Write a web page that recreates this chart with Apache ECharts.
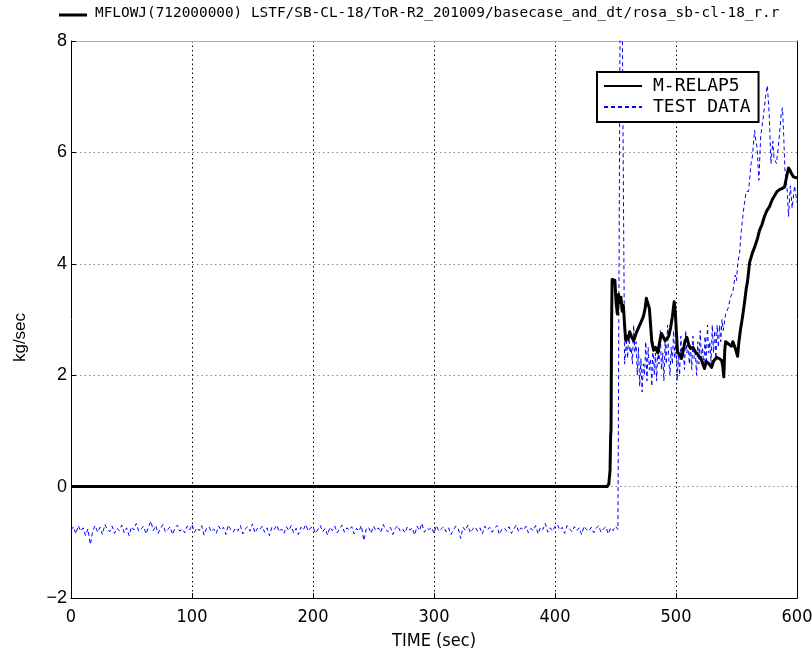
<!DOCTYPE html>
<html>
<head>
<meta charset="utf-8">
<script src="https://cdn.jsdelivr.net/npm/echarts@6/dist/echarts.min.js"></script>
<style>
html,body{margin:0;padding:0;background:#fff;overflow:hidden;}
#chart{width:812px;height:652px;}
</style>
</head>
<body>
<div id="chart"></div>
<script>
// ---- Data ----
var titleText = 'MFLOWJ(712000000) LSTF/SB-CL-18/ToR-R2_201009/basecase_and_dt/rosa_sb-cl-18_r.r';
var seriesNames = ['M-RELAP5', 'TEST DATA'];
var xTicks = [0, 100, 200, 300, 400, 500, 600];
var yTicks = [-2, 0, 2, 4, 6, 8];

// M-RELAP5 (sec, kg/sec)
var relapTime = [0, 443, 444.5, 445.5, 446, 446.3, 446.8, 447.2, 448.5, 449.5, 450.5, 451.5, 452.5, 453.5, 454.5, 455.5, 456.5, 457.5, 458.5, 459.5, 460.5, 461.7, 463, 465, 467, 469, 471, 473, 474.5, 475.5, 476.5, 478, 479, 480, 481.5, 483, 485, 486.5, 488, 489.5, 491, 492.5, 494, 495.5, 497, 498.5, 499.5, 500.5, 501.3, 503, 504.6, 506, 507.5, 509, 510.5, 512, 514, 516, 518, 519.5, 521, 522.5, 523.6, 525, 526, 527.5, 529.4, 531, 533.6, 535.5, 537.7, 538.7, 539.5, 540.3, 541, 542.6, 544, 545.9, 547, 548.4, 549.5, 550.9, 552, 553.3, 555, 556.6, 558, 559.1, 560.8, 563.2, 565, 567.4, 569, 571, 573.1, 575, 577.3, 579.5, 581.4, 583.5, 585.5, 587.5, 589.7, 591.3, 593, 594.2, 595.4, 597.1, 600];
var relapVals = [0, 0, 0.05, 0.3, 0.94, 1.0, 3.0, 3.72, 3.75, 3.7, 3.3, 3.1, 3.45, 3.3, 3.4, 3.15, 3.25, 2.9, 2.62, 2.7, 2.65, 2.78, 2.7, 2.62, 2.75, 2.85, 2.95, 3.05, 3.2, 3.38, 3.35, 3.2, 2.9, 2.6, 2.45, 2.5, 2.4, 2.6, 2.75, 2.75, 2.62, 2.66, 2.7, 2.85, 3.05, 3.32, 3.1, 2.7, 2.4, 2.38, 2.3, 2.45, 2.62, 2.68, 2.55, 2.48, 2.5, 2.42, 2.38, 2.32, 2.28, 2.18, 2.12, 2.25, 2.28, 2.2, 2.14, 2.25, 2.32, 2.3, 2.27, 2.15, 1.97, 2.45, 2.6, 2.62, 2.55, 2.52, 2.6, 2.58, 2.45, 2.34, 2.6, 2.82, 3.05, 3.3, 3.55, 3.68, 4.02, 4.2, 4.3, 4.46, 4.6, 4.7, 4.85, 4.95, 5.03, 5.15, 5.22, 5.3, 5.33, 5.35, 5.38, 5.55, 5.72, 5.68, 5.62, 5.56, 5.54];

// TEST DATA, steady part: one sample every 2 sec from 0 to 452 sec
var testSteadyStep = 2;
var testSteadyVals = [
-0.78,-0.72,-0.85,-0.70,-0.80,-0.74,-0.88,-0.76,-1.04,-0.79,
-0.70,-0.82,-0.73,-0.86,-0.68,-0.77,-0.81,-0.71,-0.84,-0.75,
-0.79,-0.69,-0.83,-0.74,-0.88,-0.72,-0.78,-0.66,-0.80,-0.76,
-0.71,-0.85,-0.73,-0.62,-0.79,-0.70,-0.84,-0.75,-0.68,-0.81,
-0.77,-0.72,-0.86,-0.74,-0.69,-0.80,-0.76,-0.83,-0.71,-0.78,
-0.68,-0.82,-0.74,-0.79,-0.70,-0.87,-0.75,-0.72,-0.81,-0.76,
-0.84,-0.71,-0.78,-0.73,-0.86,-0.69,-0.77,-0.82,-0.74,-0.79,
-0.70,-0.85,-0.76,-0.72,-0.80,-0.67,-0.83,-0.75,-0.78,-0.71,
-0.82,-0.74,-0.88,-0.73,-0.77,-0.69,-0.81,-0.76,-0.84,-0.72,
-0.79,-0.70,-0.83,-0.75,-0.86,-0.73,-0.78,-0.68,-0.80,-0.74,
-0.72,-0.84,-0.77,-0.70,-0.81,-0.75,-0.87,-0.73,-0.79,-0.71,
-0.83,-0.76,-0.69,-0.82,-0.74,-0.78,-0.72,-0.85,-0.75,-0.80,
-0.70,-0.97,-0.76,-0.73,-0.84,-0.71,-0.79,-0.74,-0.82,-0.68,
-0.77,-0.81,-0.73,-0.86,-0.75,-0.70,-0.80,-0.76,-0.83,-0.72,
-0.78,-0.74,-0.87,-0.71,-0.79,-0.66,-0.82,-0.75,-0.77,-0.73,
-0.84,-0.70,-0.80,-0.76,-0.72,-0.81,-0.74,-0.86,-0.78,-0.71,
-0.75,-0.93,-0.73,-0.79,-0.69,-0.83,-0.76,-0.72,-0.80,-0.74,
-0.85,-0.71,-0.78,-0.73,-0.82,-0.75,-0.70,-0.86,-0.77,-0.74,
-0.80,-0.72,-0.84,-0.76,-0.69,-0.81,-0.74,-0.78,-0.71,-0.83,
-0.75,-0.79,-0.70,-0.85,-0.73,-0.77,-0.66,-0.82,-0.74,-0.80,
-0.71,-0.68,-0.78,-0.73,-0.84,-0.70,-0.76,-0.81,-0.72,-0.79,
-0.74,-0.86,-0.71,-0.77,-0.80,-0.73,-0.83,-0.75,-0.70,-0.82,
-0.76,-0.72,-0.85,-0.74,-0.79,-0.71,-0.77
];
// TEST DATA, active part (sec, kg/sec)
var testActiveTime = [454.5, 457.5, 459, 460, 461, 462, 463, 464, 465, 466, 467, 468, 469, 470, 471, 472, 473, 474, 475, 476, 477, 478, 479, 480, 481, 482, 483, 484, 485, 486, 487, 488, 489, 490, 491, 492, 493, 494, 495, 496, 497, 498, 499, 500, 501, 502, 503, 504, 505, 506, 507, 508, 509, 510, 511, 512, 513, 514, 515, 516, 517, 518, 519, 520, 521, 522, 523, 524, 525, 526, 527, 528, 529, 530, 531, 532, 533, 534, 535, 536, 537, 538, 539, 541, 543, 545, 547, 549, 550, 551, 552.5, 554, 556, 558, 560, 562, 563, 565, 566, 567, 568.5, 570, 572, 574, 575.5, 577, 578.5, 580, 581, 583, 585, 587, 588, 589, 590, 592, 593, 594.5, 596, 598, 600];
var testActiveVals = [12, 2.2, 2.6, 2.3, 2.8, 2.4, 2.5, 2.2, 2.9, 2.4, 2.6, 2.0, 2.5, 1.8, 2.3, 1.7, 2.2, 2.0, 2.6, 1.9, 2.5, 2.1, 2.3, 1.8, 2.6, 2.0, 2.4, 1.9, 2.5, 2.2, 2.8, 2.1, 2.4, 1.9, 2.6, 2.2, 2.9, 2.3, 2.0, 2.5, 2.2, 2.8, 2.3, 2.6, 1.9, 2.4, 2.0, 2.7, 2.3, 2.5, 2.1, 2.8, 2.4, 2.6, 2.2, 2.5, 2.1, 2.7, 2.3, 2.4, 2.0, 2.6, 2.2, 2.8, 2.3, 2.5, 2.1, 2.7, 2.2, 2.9, 2.4, 2.6, 2.2, 2.9, 2.4, 2.8, 2.3, 2.9, 2.5, 2.9, 2.6, 3.0, 2.8, 3.1, 3.2, 3.4, 3.5, 3.8, 3.7, 4.0, 4.2, 4.6, 5.0, 5.3, 5.3, 5.8, 5.9, 6.4, 6.2, 6.1, 5.5, 6.3, 6.6, 7.0, 7.2, 6.7, 5.8, 6.2, 5.9, 5.8, 6.2, 6.7, 6.8, 6.3, 5.7, 5.3, 4.85, 5.4, 5.0, 5.4, 5.1];

// ---- Build series data ----
function pairs(xs, ys) { var out = []; for (var i = 0; i < xs.length; i++) out.push([xs[i], ys[i]]); return out; }
var relapData = pairs(relapTime, relapVals);
var testData = [];
for (var i = 0; i < testSteadyVals.length; i++) testData.push([i * testSteadyStep, testSteadyVals[i]]);
testData = testData.concat(pairs(testActiveTime, testActiveVals));

var condFont = "'DejaVu Sans Condensed', 'Liberation Sans Narrow', 'DejaVu Sans Mono', monospace";
var monoFont = "'DejaVu Sans Mono', 'Liberation Mono', monospace";
var sansFont = "'Liberation Sans', Arial, sans-serif";

var chart = echarts.init(document.getElementById('chart'), null, {renderer: 'canvas'});
chart.setOption({
  animation: false,
  backgroundColor: '#fff',
  grid: {left: 71, right: 15, top: 41, bottom: 54, containLabel: false, outerBoundsMode: 'none'},
  legend: {
    data: seriesNames,
    orient: 'vertical',
    left: 597, top: 72,
    itemWidth: 38, itemHeight: 16, itemGap: 3,
    padding: [5, 8, 6, 6],
    borderColor: '#000', borderWidth: 2, borderRadius: 0,
    backgroundColor: '#fff',
    itemStyle: {opacity: 0},
    textStyle: {fontFamily: monoFont, fontSize: 18, color: '#000', padding: [0, 0, 0, 6]}
  },
  graphic: [
    {type: 'line', shape: {x1: 59, y1: 15, x2: 87, y2: 15}, style: {stroke: '#000', lineWidth: 3}},
    {type: 'text', left: 95, top: 6, style: {text: titleText, font: '14.4px ' + monoFont, fill: '#000'}}
  ],
  xAxis: [{
    type: 'value', min: 0, max: 600, interval: 100,
    name: 'TIME (sec)', nameLocation: 'middle', nameGap: 34,
    nameTextStyle: {fontFamily: condFont, fontSize: 18, color: '#000'},
    axisLine: {show: true, onZero: false, lineStyle: {color: '#000', width: 1}},
    axisTick: {show: true, inside: true, length: 5, lineStyle: {color: '#000'}},
    axisLabel: {fontFamily: condFont, fontSize: 18, color: '#000', margin: 10,
      formatter: function (v) { return xTicks.indexOf(v) >= 0 ? String(v) : ''; }},
    splitLine: {show: true, lineStyle: {color: '#000', type: [1.5, 3], width: 1}}
  }, {
    type: 'value', position: 'top', min: 0, max: 600, interval: 100,
    axisLine: {show: true, onZero: false, lineStyle: {color: '#b0b0b0', width: 1}},
    axisTick: {show: false}, axisLabel: {show: false}, splitLine: {show: false}
  }],
  yAxis: [{
    type: 'value', min: -2, max: 8, interval: 2,
    name: 'kg/sec', nameLocation: 'middle', nameGap: 42, nameRotate: 90,
    nameTextStyle: {fontFamily: sansFont, fontSize: 17, color: '#000', padding: [0, 36, 0, 0]},
    axisLine: {show: true, onZero: false, lineStyle: {color: '#000', width: 1}},
    axisTick: {show: true, inside: true, length: 5, lineStyle: {color: '#000'}},
    axisLabel: {fontFamily: sansFont, fontSize: 18, color: '#000', margin: 4,
      formatter: function (v) { return yTicks.indexOf(v) >= 0 ? String(v).replace('-', '\u2212') : ''; }},
    splitLine: {show: true, lineStyle: {color: '#888', type: [1.5, 3], width: 1}}
  }, {
    type: 'value', position: 'right', min: -2, max: 8, interval: 2,
    axisLine: {show: true, onZero: false, lineStyle: {color: '#000', width: 1}},
    axisTick: {show: false}, axisLabel: {show: false}, splitLine: {show: false}
  }],
  series: [{
    name: seriesNames[0], type: 'line', xAxisIndex: 0, yAxisIndex: 0,
    data: relapData, symbol: 'none', clip: true, z: 3,
    color: '#000',
    lineStyle: {color: '#000', width: 3, join: 'round'}
  }, {
    name: seriesNames[1], type: 'line', xAxisIndex: 0, yAxisIndex: 0,
    data: testData, symbol: 'none', clip: true, z: 2,
    color: '#0000ff',
    lineStyle: {color: '#0000ff', width: 1, type: [4, 3]}
  }]
});
</script>
</body>
</html>
